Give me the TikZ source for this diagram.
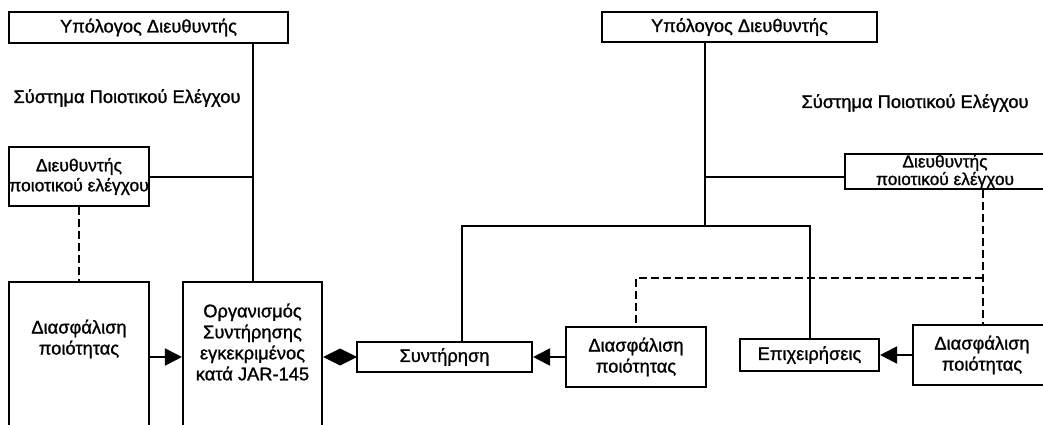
\documentclass[tikz,border=0pt]{standalone}
\usepackage{fontspec}
\newfontfamily\heavy{Liberation Sans}[FakeBold=1.2]
\usetikzlibrary{arrows.meta}
\begin{document}
\begin{tikzpicture}[x=1pt,y=-1pt,
  box/.style={draw, line width=2.1pt, inner sep=0pt, align=center},
  lbl/.style={inner sep=0pt, align=center},
  conn/.style={line width=2pt},
  dconn/.style={line width=2pt, dash pattern=on 8pt off 4pt},
  tri/.style={-{Triangle[length=17pt,width=17pt]}},
  font=\heavy\fontsize{18.3}{21}\selectfont]
\useasboundingbox (0,0) rectangle (1043,425);
\clip (0,0) rectangle (1043,425);
% left part
\node[box, minimum width=279pt, minimum height=31pt] (top1) at (148.5,27.5) {Υπόλογος Διευθυντής};
\node[lbl] (sys1) at (127,98) {Σύστημα Ποιοτικού Ελέγχου};
\node[box, minimum width=140pt, minimum height=59pt, font=\heavy\fontsize{17.5}{20}\selectfont] (qc1) at (79,176.5) {Διευθυντής\\ποιοτικού ελέγχου};
\node[box, minimum width=140pt, minimum height=158pt] (qa1) at (79,361) {};
\node[lbl] (qa1t) at (79,339) {Διασφάλιση\\ποιότητας};
\node[box, minimum width=139pt, minimum height=158pt] (org) at (252.5,361) {};
\node[lbl] (orgt) at (252.5,342) {Οργανισμός\\Συντήρησης\\εγκεκριμένος\\κατά JAR-145};
% right part
\node[box, minimum width=275pt, minimum height=30pt] (top2) at (739.5,27) {Υπόλογος Διευθυντής};
\node[lbl] (sys2) at (915,103) {Σύστημα Ποιοτικού Ελέγχου};
\node[box, minimum width=200pt, minimum height=33pt, font=\heavy\fontsize{17.3}{13.5}\selectfont] (qc2) at (945,171.5) {Διευθυντής\\ποιοτικού ελέγχου};
\node[box, minimum width=175pt, minimum height=30pt] (syn) at (444.5,357) {Συντήρηση};
\node[box, minimum width=140pt, minimum height=60pt] (qa2) at (636,357) {Διασφάλιση\\ποιότητας};
\node[box, minimum width=139pt, minimum height=32pt] (epi) at (809.5,355) {Επιχειρήσεις};
\node[box, minimum width=138pt, minimum height=60pt] (qa3) at (982,355) {Διασφάλιση\\ποιότητας};
% helper coordinates
\coordinate (a1) at (0,357);
\coordinate (j) at (705,226);
\coordinate (h2) at (705,177);
\coordinate (tl) at (462,226);
\coordinate (tr) at (809.5,226);
\coordinate (d1) at (983,278);
\coordinate (d2) at (636,278);
% left connectors
\draw[conn] (org.north) -- (org.north |- top1.south);
\draw[conn] (qc1.east) -- (qc1.east -| org.north);
\draw[dconn] (qc1.south) -- (qa1.north);
\draw[conn,tri] (qa1.east |- a1) -- (org.west |- a1);
\draw[conn,-{Diamond[length=34pt,width=17pt]}] (syn.west) -- (syn.west -| org.east);
% right connectors
\draw[conn] (top2.south -| j) -- (j);
\draw[conn] (h2) -- (h2 -| qc2.west);
\draw[conn] (tl |- syn.north) -- (tl) -- (tr) -- (tr |- epi.north);
\draw[dconn] (qc2.south -| d1) -- (qa3.north -| d1);
\draw[dconn] (d1) -- (d2) -- (qa2.north);
\draw[conn,tri] (qa2.west) -- (syn.east);
\draw[conn,tri] (qa3.west) -- (epi.east);
\end{tikzpicture}
\end{document}
